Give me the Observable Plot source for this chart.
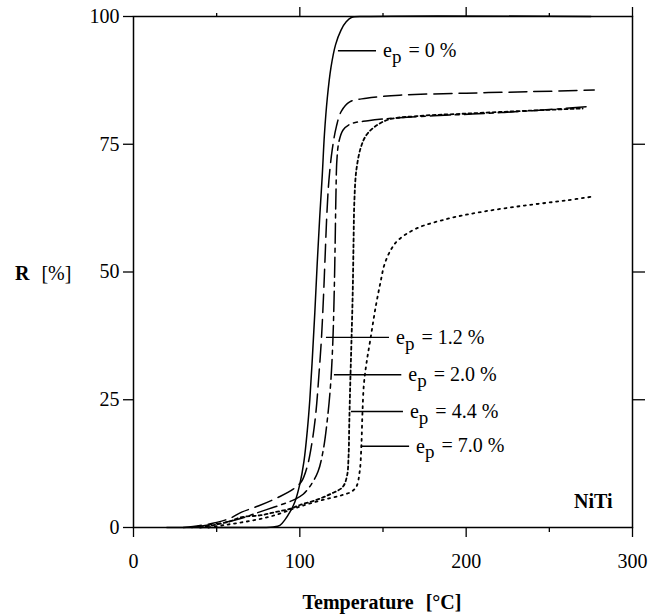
<!DOCTYPE html>
<html><head><meta charset="utf-8">
<script src="https://cdn.jsdelivr.net/npm/d3@7"></script>
<script src="https://cdn.jsdelivr.net/npm/@observablehq/plot@0.6"></script>
<style>body{margin:0;background:#fff}</style>
</head><body><div id="chart"></div>
<script>
// Temperature [°C], R [%] pairs
const curveEp0 = [[20,0],[60,0],[84,0.1],[88,0.4],[91,1.5],[94,3],[97,5],[100,8.5],[102.5,13],[104.5,19],[106,25],[107.5,33],[109,42],[110.5,52],[112,61],[113.5,69],[114.8,77],[116.5,84],[118.7,90],[121.5,94.5],[124.7,97.3],[128,99],[131,99.8],[140,100],[275,100]];
const curveEp12 = [[30,0],[40,0.4],[50,1],[58,1.8],[65,3],[75,4.2],[87,5.9],[96,7.5],[101,9],[104.5,12],[107,16],[109.5,22],[111.5,30],[113,37],[114.2,45],[115.2,53],[116.2,61],[117.5,68],[119.5,74],[122,78.5],[125,81.5],[130,83.3],[140,84],[160,84.6],[200,85],[240,85.3],[277,85.6]];
const curveEp20 = [[35,0],[45,0.5],[55,1],[65,1.8],[72,2.6],[80,3.5],[90,4.6],[97,5.5],[102,6.5],[107,8.5],[111,11],[114,15],[116.5,21],[118.5,28],[119.8,36],[120.6,45],[121.2,55],[121.7,65],[122.3,72],[123.5,75.5],[126,77.8],[130.7,79],[141,79.6],[160,80.2],[190,80.7],[221,81.2],[250,81.8],[275,82.4]];
const curveEp44 = [[40,0],[50,0.6],[58,1.2],[64.5,2],[76.5,2.4],[85,3],[94.6,3.7],[100,4.4],[110,5.4],[118.7,6.6],[125.7,7.9],[128.3,10],[129.3,14],[129.7,20],[130.3,28],[131,36],[131.8,46],[132.3,56],[132.8,64],[134,70],[136.7,74.4],[140,76.8],[145,78.4],[153,79.8],[170,80.5],[200,81],[240,81.6],[270,82]];
const curveEp70 = [[45,0],[55,0.5],[65,1],[75,1.6],[85,2.4],[96.4,3.7],[105,4.6],[115,5.5],[125,6.3],[131,7],[134,8],[136,11],[137,16],[137.6,22],[138.5,28],[140,32],[142.5,37],[145.5,43],[148.5,48],[151,51.6],[155,54.5],[159,56.2],[170,58.5],[190,60.5],[210,61.8],[235,63],[260,64],[277,64.8]];

const strainLabels = ["0", "1.2", "2.0", "4.4", "7.0"];
const leaderFromT = [122.9, 115.7, 120.5, 130.7, 136.7];
const leaderToT = [145.8, 153.6, 161, 162, 165.7];
const leaderR = [93.3, 37.2, 29.9, 22.7, 15.9];

const xMajorTicks = [0, 100, 200, 300];
const xMinorTicks = [50, 150, 250];
const yTicks = [0, 25, 50, 75, 100];
const yRightTicks = [25, 50, 75];

const curves = [curveEp0, curveEp12, curveEp20, curveEp44, curveEp70];
const dashes = [null, "18,7", "20,5,4,5", "3,3", "2,4.5"];
const leaders = strainLabels.map((s, i) => ({strain: s, from: leaderFromT[i], to: leaderToT[i], R: leaderR[i]}));

const lineMarks = curves.map((c, i) => Plot.line(c.map(([T, R]) => ({T, R})), {
  x: "T", y: "R", stroke: "black", strokeWidth: i >= 3 ? 1.8 : 1.5,
  strokeDasharray: dashes[i], curve: "catmull-rom"
}));

const plot = Plot.plot({
  width: 659, height: 616,
  marginLeft: 133, marginRight: 27, marginTop: 16, marginBottom: 89,
  x: {domain: [0, 300]},
  y: {domain: [0, 100]},
  style: {fontFamily: "Liberation Serif", fontSize: "20px", background: "#fff", color: "#000"},
  marks: [
    Plot.frame({stroke: "black", strokeWidth: 1.5}),
    Plot.axisX({anchor: "bottom", ticks: xMajorTicks, tickSize: 10, tickPadding: 16, tickFormat: d => String(d), label: null, strokeWidth: 1.3}),
    Plot.axisX({anchor: "bottom", ticks: xMinorTicks, tickSize: 5, fill: "none", label: null, strokeWidth: 1.3}),
    Plot.axisX({anchor: "top", ticks: [100, 200, 300], tickSize: 10, fill: "none", label: null, strokeWidth: 1.3}),
    Plot.axisX({anchor: "top", ticks: xMinorTicks, tickSize: 4, fill: "none", label: null, strokeWidth: 1.3}),
    Plot.axisY({anchor: "left", ticks: yTicks, tickSize: 10, tickPadding: 4, tickFormat: d => String(d), label: null, strokeWidth: 1.3}),
    Plot.axisY({anchor: "right", ticks: yRightTicks, tickSize: 12, fill: "none", label: null, strokeWidth: 1.3}),
    ...lineMarks,
    Plot.link(leaders, {x1: "from", x2: "to", y1: "R", y2: "R", stroke: "black", strokeWidth: 1.4}),
    Plot.text(leaders, {x: "to", y: "R", text: d => "ep = " + d.strain + " %", textAnchor: "start", lineAnchor: "middle", dx: 7, fontSize: 20}),
    Plot.text(["NiTi"], {frameAnchor: "bottom-right", dx: -20, dy: -20, fontWeight: "bold", fontSize: 20})
  ]
});

document.getElementById("chart").appendChild(plot);
const svg = d3.select(plot);

// subscript p in e_p labels
svg.selectAll("text").each(function () {
  const t = this.textContent;
  if (t.startsWith("ep = ")) {
    const rest = t.slice(2);
    const el = d3.select(this);
    el.text(null);
    el.append("tspan").text("e");
    el.append("tspan").attr("dy", "0.3em").attr("font-size", "0.95em").text("p");
    el.append("tspan").attr("dy", "-0.3em").attr("dx", "2").text(rest);
  }
});

// axis titles
const yTitle = svg.append("text").attr("x", 15).attr("y", 280).attr("text-anchor", "start")
  .attr("font-family", "Liberation Serif").attr("font-size", 20).attr("fill", "black");
yTitle.append("tspan").attr("font-weight", "bold").text("R");
yTitle.append("tspan").attr("dx", 12).text("[%]");

const xTitle = svg.append("text").attr("x", 382).attr("y", 609).attr("text-anchor", "middle")
  .attr("font-family", "Liberation Serif").attr("font-size", 20).attr("font-weight", "bold").attr("fill", "black");
xTitle.append("tspan").text("Temperature");
xTitle.append("tspan").attr("dx", 12).text("[°C]");
</script>
</body></html>
